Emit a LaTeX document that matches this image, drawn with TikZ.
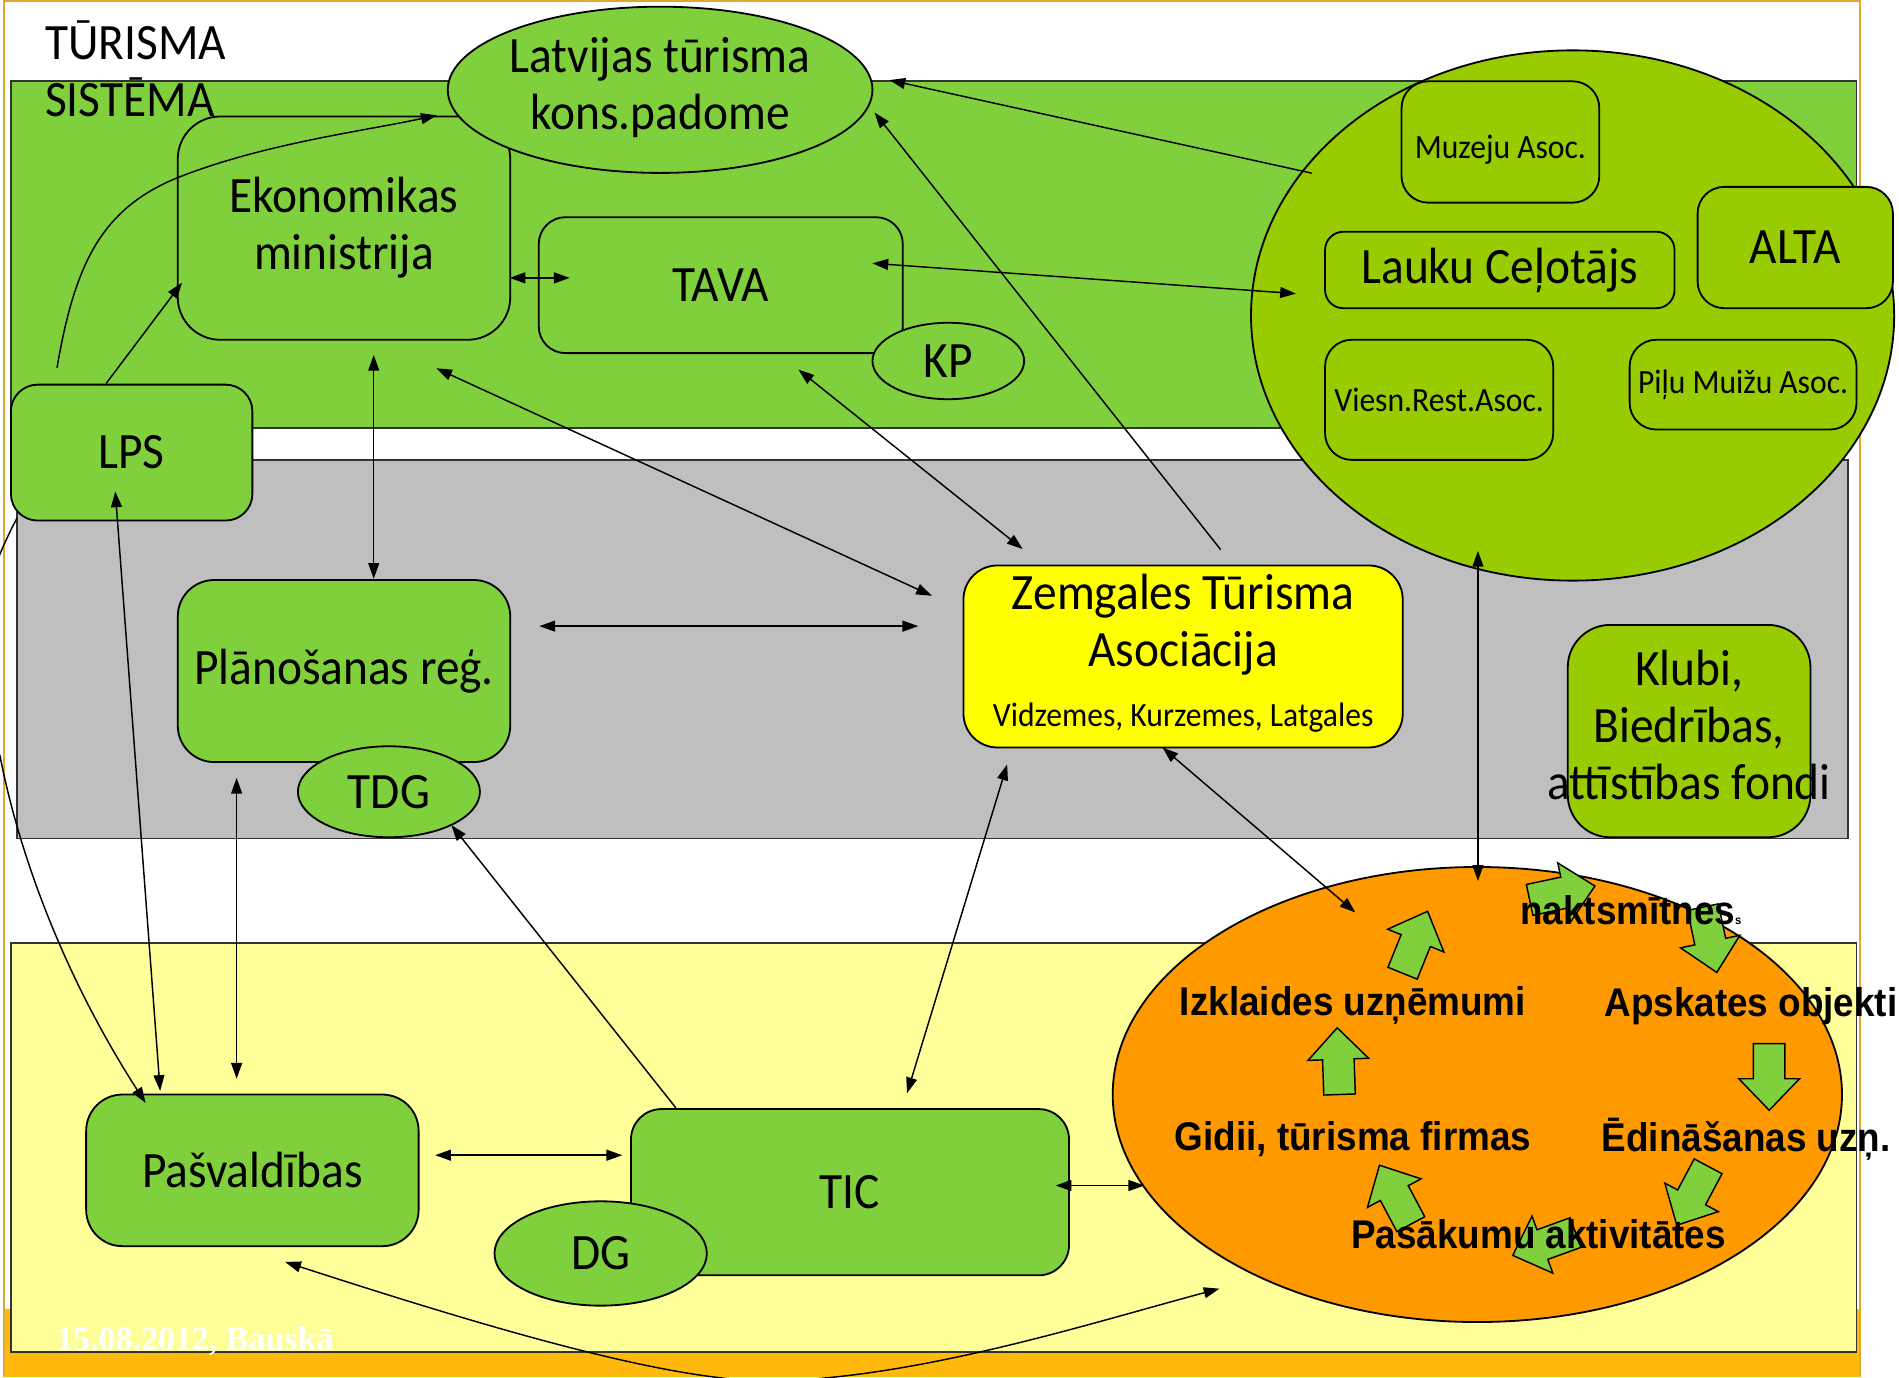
\documentclass[tikz,border=0pt]{standalone}
\usepackage{fontspec}
\setmainfont{Carlito}[FakeStretch=0.93]
\newfontfamily\arialfont{Liberation Sans}[FakeStretch=0.92]
\newfontfamily\timesfont{Liberation Serif}
\usetikzlibrary{calc,arrows.meta,shapes.geometric}
\definecolor{ngreen}{HTML}{7FD03C}
\definecolor{lgreen}{HTML}{99CC00}
\definecolor{bgray}{HTML}{BFBFBF}
\definecolor{lyellow}{HTML}{FFFF99}
\definecolor{yel}{HTML}{FFFF00}
\definecolor{orng}{HTML}{FF9900}
\definecolor{goldband}{HTML}{FFB80C}
\definecolor{goldline}{HTML}{E0A82E}
\newcommand\fsmain{\fontsize{42}{47}\selectfont}
\newcommand\fssmall{\fontsize{28}{31}\selectfont}
\newcommand\fsbold{\arialfont\bfseries\fontsize{33}{38}\selectfont}
\tikzset{
  band/.style={draw=black!80, line width=1.5pt},
  gbox/.style={draw=black, line width=1.5pt, fill=ngreen, rounded corners=22pt, inner sep=0pt, align=center, font=\fsmain},
  lbox/.style={gbox, fill=lgreen},
  gell/.style={draw=black, line width=1.5pt, fill=ngreen, ellipse, inner sep=0pt, font=\fsmain},
  otext/.style={inner sep=0pt, font=\fsbold},
  conn/.style={line width=1.2pt, draw=black},
  dbl/.style={conn, {Triangle[length=13pt,width=9pt]}-{Triangle[length=13pt,width=9pt]}},
  sgl/.style={conn, -{Triangle[length=13pt,width=9pt]}},
  blockarrow/.pic={\draw[fill=ngreen, line width=1.2pt, line join=miter]
     (-27,-13) -- (2,-13) -- (2,-25) -- (28,0) -- (2,25) -- (2,13) -- (-27,13) -- cycle;}
}
\begin{document}
\begin{tikzpicture}[x=1pt,y=-1pt]
\useasboundingbox (0,0) rectangle (1565,1135);
\clip (0,0) rectangle (1565,1135);
\fill[white] (0,0) rectangle (1565,1135);
% frame and bottom band
\fill[goldband] (3,1079) rectangle (1533,1135);
\draw[goldline, line width=1.5pt] (3,1135) -- (3,1) -- (1533,1) -- (1533,1135);
% bands
\draw[band, fill=ngreen] (9,67) rectangle (1530,353);
\draw[band, fill=bgray] (14,379) rectangle (1523,691);
\draw[band, fill=lyellow] (9,777) rectangle (1530,1114);
% title
\node[anchor=north west, align=left, inner sep=0pt, font=\fsmain] (title) at (37,17) {TŪRISMA\\SISTĒMA};
% top row nodes
\node[gbox, rounded corners=35pt, minimum width=274pt, minimum height=184pt] (eko) at (283.5,188) {Ekonomikas\\ministrija};
\node[gell, minimum width=350pt, minimum height=137pt] (lkp) at (544,74)
  {\makebox[0pt]{\begin{tabular}{@{}c@{}}Latvijas tūrisma\\kons.padome\end{tabular}}};
\node[gbox, minimum width=300pt, minimum height=112pt] (tava) at (594,235) {TAVA};
\node[gell, minimum width=125pt, minimum height=63pt] (kp) at (781.5,297.5) {KP};
\node[gbox, minimum width=199pt, minimum height=112pt] (lps) at (108.5,373) {LPS};
% associations
\node[draw=black, line width=1.5pt, fill=lgreen, ellipse, minimum width=530pt, minimum height=437pt, inner sep=0pt] (assoc) at (1296,260) {};
\node[lbox, font=\fssmall, minimum width=163pt, minimum height=100pt] (muz) at (1236.5,117) {\smash{\raisebox{-14pt}{Muzeju Asoc.}}};
\node[lbox, rounded corners=15pt, minimum width=288pt, minimum height=63pt] (lauku) at (1236,222.5) {Lauku Ceļotājs};
\node[lbox, minimum width=161pt, minimum height=100pt] (alta) at (1479.5,204) {ALTA};
\node[lbox, font=\fssmall, minimum width=188pt, minimum height=99pt] (viesn) at (1186,329.5) {Viesn.Rest.Asoc.};
\node[lbox, font=\fssmall, minimum width=187pt, minimum height=74pt] (pilu) at (1436.5,317) {Piļu Muižu Asoc.};
% middle row
\node[gbox, rounded corners=30pt, minimum width=274pt, minimum height=150pt] (plan) at (283.5,553) {Plānošanas reģ.};
\node[gell, minimum width=150pt, minimum height=75pt] (tdg) at (320.5,652.5) {TDG};
\node[gbox, fill=yel, rounded corners=28pt, minimum width=362pt, minimum height=150pt] (zta) at (975,541)
  {\begin{tabular}{@{}c@{}}Zemgales Tūrisma\\Asociācija\\[2pt]{\fontsize{28}{31}\selectfont Vidzemes, Kurzemes, Latgales}\end{tabular}};
\node[lbox, rounded corners=35pt, minimum width=200pt, minimum height=175pt] (klubi) at (1392,602.5)
  {\makebox[0pt]{\begin{tabular}{@{}c@{}}Klubi,\\Biedrības,\\attīstības fondi\end{tabular}}};
% bottom row
\node[gbox, rounded corners=30pt, minimum width=274pt, minimum height=125pt] (pasv) at (208,964.5) {Pašvaldības};
\node[gbox, rounded corners=25pt, minimum width=361pt, minimum height=137pt] (tic) at (700.5,982.5) {TIC};
\node[gell, minimum width=175pt, minimum height=86pt] (dg) at (495,1033) {DG};
% orange cycle
\node[draw=black, line width=1.5pt, fill=orng, ellipse, minimum width=601pt, minimum height=375pt, inner sep=0pt] (orange) at (1217.5,902) {};
\pic[rotate=92] at (1103,875) {blockarrow};
\pic[rotate=68] at (1166,777) {blockarrow};
\pic[rotate=12] at (1287,736) {blockarrow};
\pic[rotate=-78] at (1409,774) {blockarrow};
\pic[rotate=-90] at (1458,887) {blockarrow};
\pic[rotate=-118] at (1395,985) {blockarrow};
\pic[rotate=200] at (1273,1025) {blockarrow};
\pic[rotate=118] at (1150,985) {blockarrow};
\node[otext] (nakts) at (1344,750) {naktsmītnes{\fontsize{10}{12}\selectfont s}};
\node[otext] (izkl) at (1115,829) {Izklaides uzņēmumi};
\node[otext] (apsk) at (1443,829) {Apskates objekti};
\node[otext] (gidi) at (1115,939) {Gidii, tūrisma firmas};
\node[otext] (edin) at (1439,939) {Ēdināšanas uzņ.};
\node[otext] (pasak) at (1268,1017) {Pasākumu aktivitātes};
% date
\node[anchor=base west, text=white, font=\timesfont\bfseries\fontsize{28}{32}\selectfont, inner sep=0pt] (date) at (46,1113) {15.08.2012, Bauskā};
% connectors
\draw[sgl] ($(lps.center)+(-61.5,-70)$) .. controls (62,215) and (85,170) .. (150,145) .. controls (220,118) and (300,108) .. ($(lkp.center)+(-184,21)$);
\draw[sgl] ($(lps.center)+(-21,-57)$) -- ($(eko.center)+(-133.5,45)$);
\draw[dbl] ($(eko.center)+(136.5,41)$) -- ($(tava.center)+(-124.5,-6)$);
\draw[dbl] ($(eko.center)+(24.5,104.5)$) -- ($(plan.center)+(24.5,-76)$);
\draw[dbl] ($(eko.center)+(76,115.5)$) -- ($(zta.center)+(-207,-50)$);
\draw[dbl] ($(plan.center)+(161,-37)$) -- ($(zta.center)+(-218.3,-25)$);
\draw[dbl] ($(tava.center)+(64,69.6)$) -- ($(zta.center)+(-132.2,-88.5)$);
\draw[sgl] ($(zta.center)+(31,-88)$) -- ($(lkp.center)+(176.7,18.7)$);
\draw[sgl] ($(assoc.center)+(-215,-117.3)$) -- ($(lkp.center)+(189,-8)$);
\draw[dbl] ($(tava.center)+(125,-18)$) -- ($(assoc.center)+(-228,-18)$);
\draw[dbl] ($(assoc.center)+(-78,194)$) -- ($(orange.center)+(0.5,-176)$);
\draw[dbl] ($(zta.center)+(-17,75)$) -- ($(orange.center)+(-100.5,-150)$);
\draw[dbl] ($(zta.center)+(-145,89)$) -- ($(tic.center)+(47,-81.5)$);
\draw[sgl] ($(tic.center)+(-143.5,-69.5)$) -- ($(tdg.center)+(51.5,27.5)$);
\draw[dbl] ($(plan.center)+(-88.5,88)$) -- ($(pasv.center)+(-13,-75.5)$);
\draw[dbl] ($(lps.center)+(-13.5,32)$) -- ($(pasv.center)+(-76,-65.5)$);
\draw[sgl] ($(lps.center)+(-94.5,54)$) .. controls (-30,510) and (-20,560) .. (0,623) .. controls (15,700) and (50,800) .. ($(pasv.center)+(-88,-55.5)$);
\draw[dbl] ($(pasv.center)+(150.6,-12.5)$) -- ($(tic.center)+(-187.7,-30.5)$);
\draw[dbl] ($(tic.center)+(169.5,-5.5)$) -- ($(orange.center)+(-274.5,75)$);
\draw[dbl] ($(pasv.center)+(27,75.5)$) .. controls (420,1100) and (560,1140) .. (640,1138) .. controls (760,1135) and (900,1090) .. ($(orange.center)+(-212.5,160)$);
\end{tikzpicture}
\end{document}
